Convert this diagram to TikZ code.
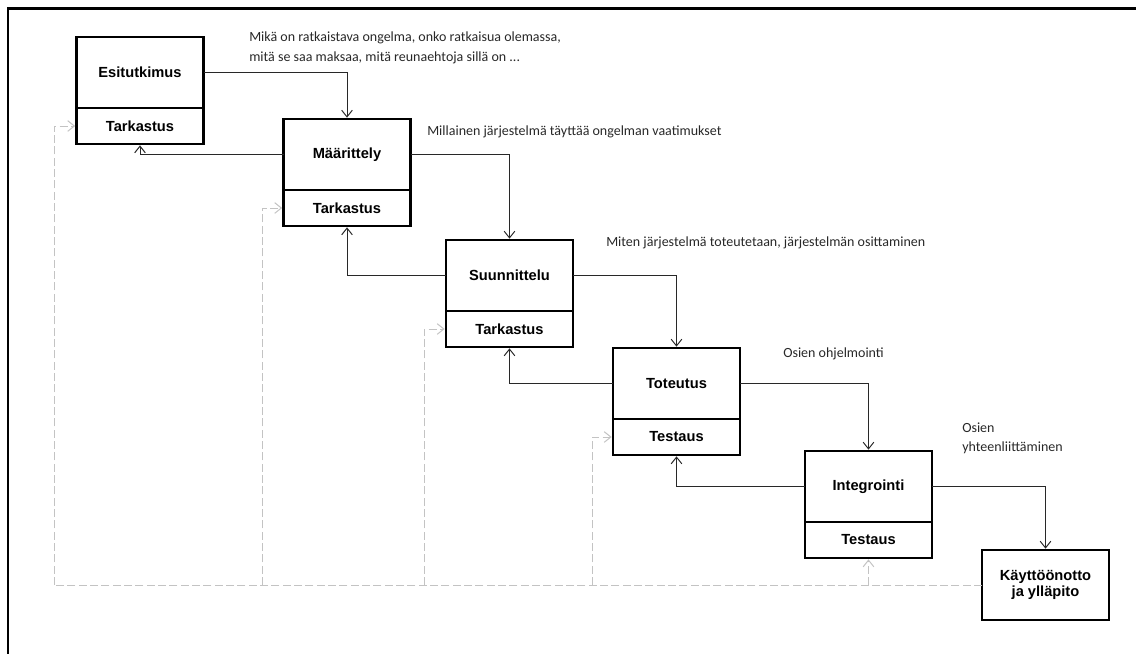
\documentclass[tikz,border=0pt]{standalone}
\usepackage{fontspec}
\setmainfont{Liberation Sans}
\newfontfamily\notefont{Carlito}
\usetikzlibrary{arrows.meta}
\definecolor{notegray}{RGB}{40,40,40}
\definecolor{dashgray}{RGB}{195,195,195}
\definecolor{linegray}{RGB}{40,40,40}
\begin{document}
\begin{tikzpicture}[x=0.75pt,y=-0.75pt,
  box/.style={draw, line width=2.2pt, outer sep=0pt, inner sep=0pt, minimum width=95.25pt,
    font=\fontsize{11}{12}\selectfont\bfseries, align=center},
  mainbox/.style={box, minimum height=53.25pt, anchor=north},
  subbox/.style={box, minimum height=27pt, anchor=north},
  note/.style={font=\notefont\fontsize{10.5}{15}\selectfont, text=notegray, anchor=west, align=left, inner sep=0pt},
  flow/.style={draw=linegray, line width=0.75pt, -{Straight Barb[length=5pt,width=8pt]}, shorten >=1pt},
  fb/.style={draw=dashgray, line width=0.75pt, dash pattern=on 6pt off 2.5pt},
  fbarr/.style={fb, -{Straight Barb[length=5pt,width=8pt]}, shorten >=1pt}]
\useasboundingbox (0,0) rectangle (1136,654);
% frame
\draw[line width=1.6pt] (1136,8.5) -- (8,8.5) -- (8,654);
% boxes
\node[mainbox] (b1) at (140,37) {Esitutkimus};
\node[subbox] (b1t) at (b1.south) {Tarkastus};
\node[mainbox] (b2) at (347,119) {Määrittely};
\node[subbox] (b2t) at (b2.south) {Tarkastus};
\node[mainbox] (b3) at (509.5,240) {Suunnittelu};
\node[subbox] (b3t) at (b3.south) {Tarkastus};
\node[mainbox] (b4) at (676.5,348) {Toteutus};
\node[subbox] (b4t) at (b4.south) {Testaus};
\node[mainbox] (b5) at (868.5,451) {Integrointi};
\node[subbox] (b5t) at (b5.south) {Testaus};
\node[box, minimum height=52.5pt] (b6) at (1045.5,585) {Käyttöönotto\\ja ylläpito};
% notes
\node[note] (n1) at (249,48) {Mikä on ratkaistava ongelma, onko ratkaisua olemassa,\\mitä se saa maksaa, mitä reunaehtoja sillä on ...};
\node[note] (n2) at (427,132) {Millainen järjestelmä täyttää ongelman vaatimukset};
\node[note] (n3) at (606,243) {Miten järjestelmä toteutetaan, järjestelmän osittaminen};
\node[note] (n4) at (783,354) {Osien ohjelmointi};
\node[note, font=\notefont\fontsize{10.5}{14.3}\selectfont] (n5) at (962,438.5) {Osien\\yhteenliittäminen};
% forward flow
\draw[flow] (b1.east) -| (b2.north);
\draw[flow] (b2.east) -| (b3.north);
\draw[flow] (b3.east) -| (b4.north);
\draw[flow] (b4.east) -| (b5.north);
\draw[flow] (b5.east) -| (b6.north);
% backward flow
\draw[flow] (b2.west) -| (b1t.south);
\draw[flow] (b3.west) -| (b2t.south);
\draw[flow] (b4.west) -| (b3t.south);
\draw[flow] (b5.west) -| (b4t.south);
% feedback dashed
\coordinate (c0) at (54,585);
\coordinate (c1) at (262,585);
\coordinate (c2) at (424,585);
\coordinate (c3) at (592,585);
\coordinate (c4) at (b5t.south |- b6.west);
\draw[fb] (b6.west) -- (c0);
\draw[fbarr] (c0) |- (b1t.west);
\draw[fbarr] (c1) |- (b2t.west);
\draw[fbarr] (c2) |- (b3t.west);
\draw[fbarr] (c3) |- (b4t.west);
\draw[fbarr] (c4) -- (b5t.south);
\end{tikzpicture}
\end{document}
